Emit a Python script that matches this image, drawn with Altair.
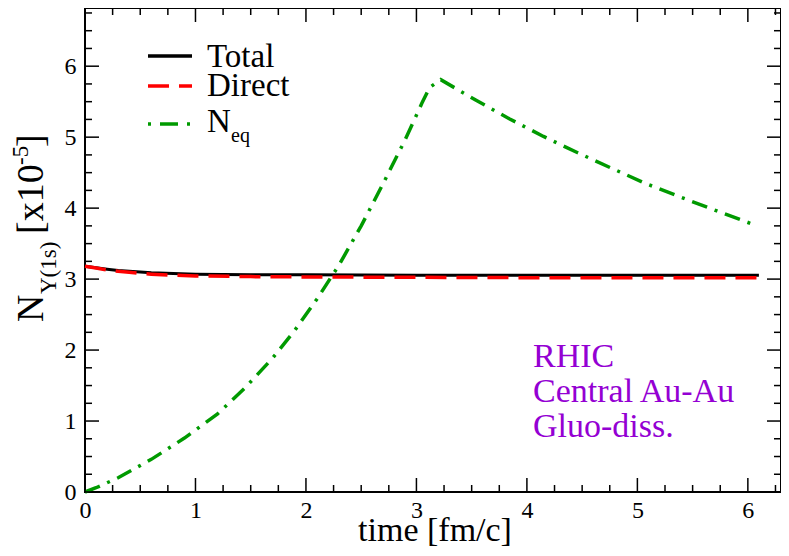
import altair as alt
import pandas as pd

FONT = "'Liberation Serif', 'Times New Roman', Times, 'DejaVu Serif', serif"

# ---- data ----
T_TOTAL = [0.0, 0.1, 0.2, 0.3, 0.4, 0.5, 0.6, 0.8, 1.0, 1.5, 2.0, 3.0, 4.0, 5.0, 6.1]
TOTAL = [3.18, 3.16, 3.14, 3.12, 3.11, 3.10, 3.09, 3.08, 3.07, 3.06, 3.06, 3.055, 3.055, 3.055, 3.055]
T_DIRECT = [0.0, 0.1, 0.2, 0.3, 0.4, 0.5, 0.6, 0.8, 1.0, 1.5, 2.0, 3.0, 4.0, 5.0, 6.1]
DIRECT = [3.18, 3.155, 3.13, 3.11, 3.095, 3.08, 3.07, 3.055, 3.045, 3.035, 3.03, 3.025, 3.02, 3.02, 3.02]
T_NEQ = [0.0, 0.1, 0.3, 0.6, 0.9, 1.2, 1.45, 1.7, 1.9, 2.1, 2.3, 2.5, 2.7, 2.9, 3.05, 3.12, 3.22,
         3.54, 3.84, 4.15, 4.46, 4.77, 5.07, 5.4, 5.72, 6.05]
NEQ = [0.0, 0.06, 0.2, 0.46, 0.76, 1.1, 1.47, 1.89, 2.28, 2.72, 3.2, 3.75, 4.35, 4.97, 5.48, 5.7, 5.81,
       5.52, 5.26, 5.01, 4.78, 4.56, 4.35, 4.15, 3.96, 3.77]

X_MAJOR = [0, 1, 2, 3, 4, 5, 6]
X_MINOR = [i * 0.25 for i in range(1, 26) if i % 4 != 0]
Y_MAJOR = [0, 1, 2, 3, 4, 5, 6]
Y_MINOR = [i * 0.25 for i in range(1, 28) if i % 4 != 0]

LEGEND_LABELS = ["Total", "Direct", "N"]
ANNOT_LINES = ["RHIC", "Central Au-Au", "Gluo-diss."]

W, H = 696, 484
XDOM = [0, 6.3]
YDOM = [0, 6.82]

xs = alt.Scale(domain=XDOM, nice=False, zero=False)
ys = alt.Scale(domain=YDOM, nice=False, zero=False)

xaxis = alt.Axis(values=X_MAJOR, title=None, labelFont=FONT, labelFontSize=24, labelColor="black",
                 labelPadding=6, ticks=False, tickSize=0, domain=False, grid=False, format="d",
                 labelFlush=False)
yaxis = alt.Axis(values=Y_MAJOR, title=None, labelFont=FONT, labelFontSize=24, labelColor="black",
                 labelPadding=9, ticks=False, tickSize=0, domain=False, grid=False, format="d",
                 labelFlush=False)

df_total = pd.DataFrame({"t": T_TOTAL, "v": TOTAL})
df_direct = pd.DataFrame({"t": T_DIRECT, "v": DIRECT})
df_neq = pd.DataFrame({"t": T_NEQ, "v": NEQ})

neq = alt.Chart(df_neq).mark_line(color="#009a00", strokeWidth=3.5, strokeDash=[16, 8, 3, 8]).encode(
    x=alt.X("t:Q", scale=xs, axis=xaxis), y=alt.Y("v:Q", scale=ys, axis=yaxis))
total = alt.Chart(df_total).mark_line(color="black", strokeWidth=3).encode(
    x=alt.X("t:Q", scale=xs), y=alt.Y("v:Q", scale=ys))
direct = alt.Chart(df_direct).mark_line(color="#ff0000", strokeWidth=3.5, strokeDash=[21, 10]).encode(
    x=alt.X("t:Q", scale=xs), y=alt.Y("v:Q", scale=ys))

# ---- inward ticks on all four sides ----
def xticks(vals, length):
    d = pd.DataFrame({"tv": vals})
    bottom = alt.Chart(d).mark_rule(color="black", strokeWidth=1.5).encode(
        x=alt.X("tv:Q", scale=xs), y=alt.value(H), y2=alt.value(H - length))
    top = alt.Chart(d).mark_rule(color="black", strokeWidth=1.5).encode(
        x=alt.X("tv:Q", scale=xs), y=alt.value(0), y2=alt.value(length))
    return [bottom, top]

def yticks(vals, length):
    d = pd.DataFrame({"tv": vals})
    left = alt.Chart(d).mark_rule(color="black", strokeWidth=1.5).encode(
        y=alt.Y("tv:Q", scale=ys), x=alt.value(0), x2=alt.value(length))
    right = alt.Chart(d).mark_rule(color="black", strokeWidth=1.5).encode(
        y=alt.Y("tv:Q", scale=ys), x=alt.value(W), x2=alt.value(W - length))
    return [left, right]

tick_layers = xticks(X_MAJOR, 14) + xticks(X_MINOR, 7) + yticks(Y_MAJOR, 14) + yticks(Y_MINOR, 7)

# ---- legend (drawn by hand) ----
leg_y = [48, 78, 116]
leg_dash = [[1, 0], [21, 10], [3, 9, 18, 9]]
leg_col = ["black", "#ff0000", "#009a00"]
legend_layers = []
for i in range(3):
    legend_layers.append(
        alt.Chart(pd.DataFrame({"k": [LEGEND_LABELS[i]]})).mark_rule(
            color=leg_col[i], strokeWidth=3.5, strokeDash=leg_dash[i]).encode(
            x=alt.value(63), x2=alt.value(107), y=alt.value(leg_y[i])))
leg_base = [59, 88, 124]
for i in range(3):
    legend_layers.append(
        alt.Chart(pd.DataFrame({"k": [LEGEND_LABELS[i]]})).mark_text(
            font=FONT, fontSize=33, color="black", align="left", baseline="alphabetic").encode(
            text="k:N", x=alt.value(122), y=alt.value(leg_base[i])))
legend_layers.append(
    alt.Chart(pd.DataFrame({"k": ["eq"]})).mark_text(
        font=FONT, fontSize=20, color="black", align="left", baseline="alphabetic").encode(
        text="k:N", x=alt.value(146), y=alt.value(134)))

# ---- annotation ----
annot = alt.Chart(pd.DataFrame({"k": ANNOT_LINES, "yy": [359, 394, 429]})).mark_text(
    font=FONT, fontSize=34, color="#9400d3", align="left", baseline="alphabetic").encode(
    text="k:N", x=alt.value(448), y=alt.Y("yy:Q", scale=None))

# ---- axis titles ----
xtitle = alt.Chart(pd.DataFrame({"k": ["time [fm/c]"]})).mark_text(
    font=FONT, fontSize=34, color="black", align="center", baseline="alphabetic").encode(
    text="k:N", x=alt.value(W / 2 + 2), y=alt.value(533))

# y title pieces: (text, fontsize, baseline x, start y)
YT = [("N", 38, -42, 314), ("Y(1s)", 23, -29, 286), ("[x10", 38, -42, 226),
      ("-5", 23, -57, 157), ("]", 38, -42, 139)]
ytitle_layers = []
for txt, fs, bx, sy in YT:
    ytitle_layers.append(
        alt.Chart(pd.DataFrame({"k": [txt]})).mark_text(
            font=FONT, fontSize=fs, color="black", align="left", baseline="alphabetic", angle=270).encode(
            text="k:N", x=alt.value(bx), y=alt.value(sy)))

chart = alt.layer(neq, total, direct, *tick_layers, *legend_layers, annot, xtitle, *ytitle_layers).properties(
    width=W, height=H,
    autosize=alt.AutoSizeParams(type="none"),
    padding={"left": 77, "top": 0, "right": 0, "bottom": 56},
    background="white",
).configure_view(stroke="black", strokeWidth=2)

chart.save("out.html", embed_options={"renderer": "svg", "actions": False})
